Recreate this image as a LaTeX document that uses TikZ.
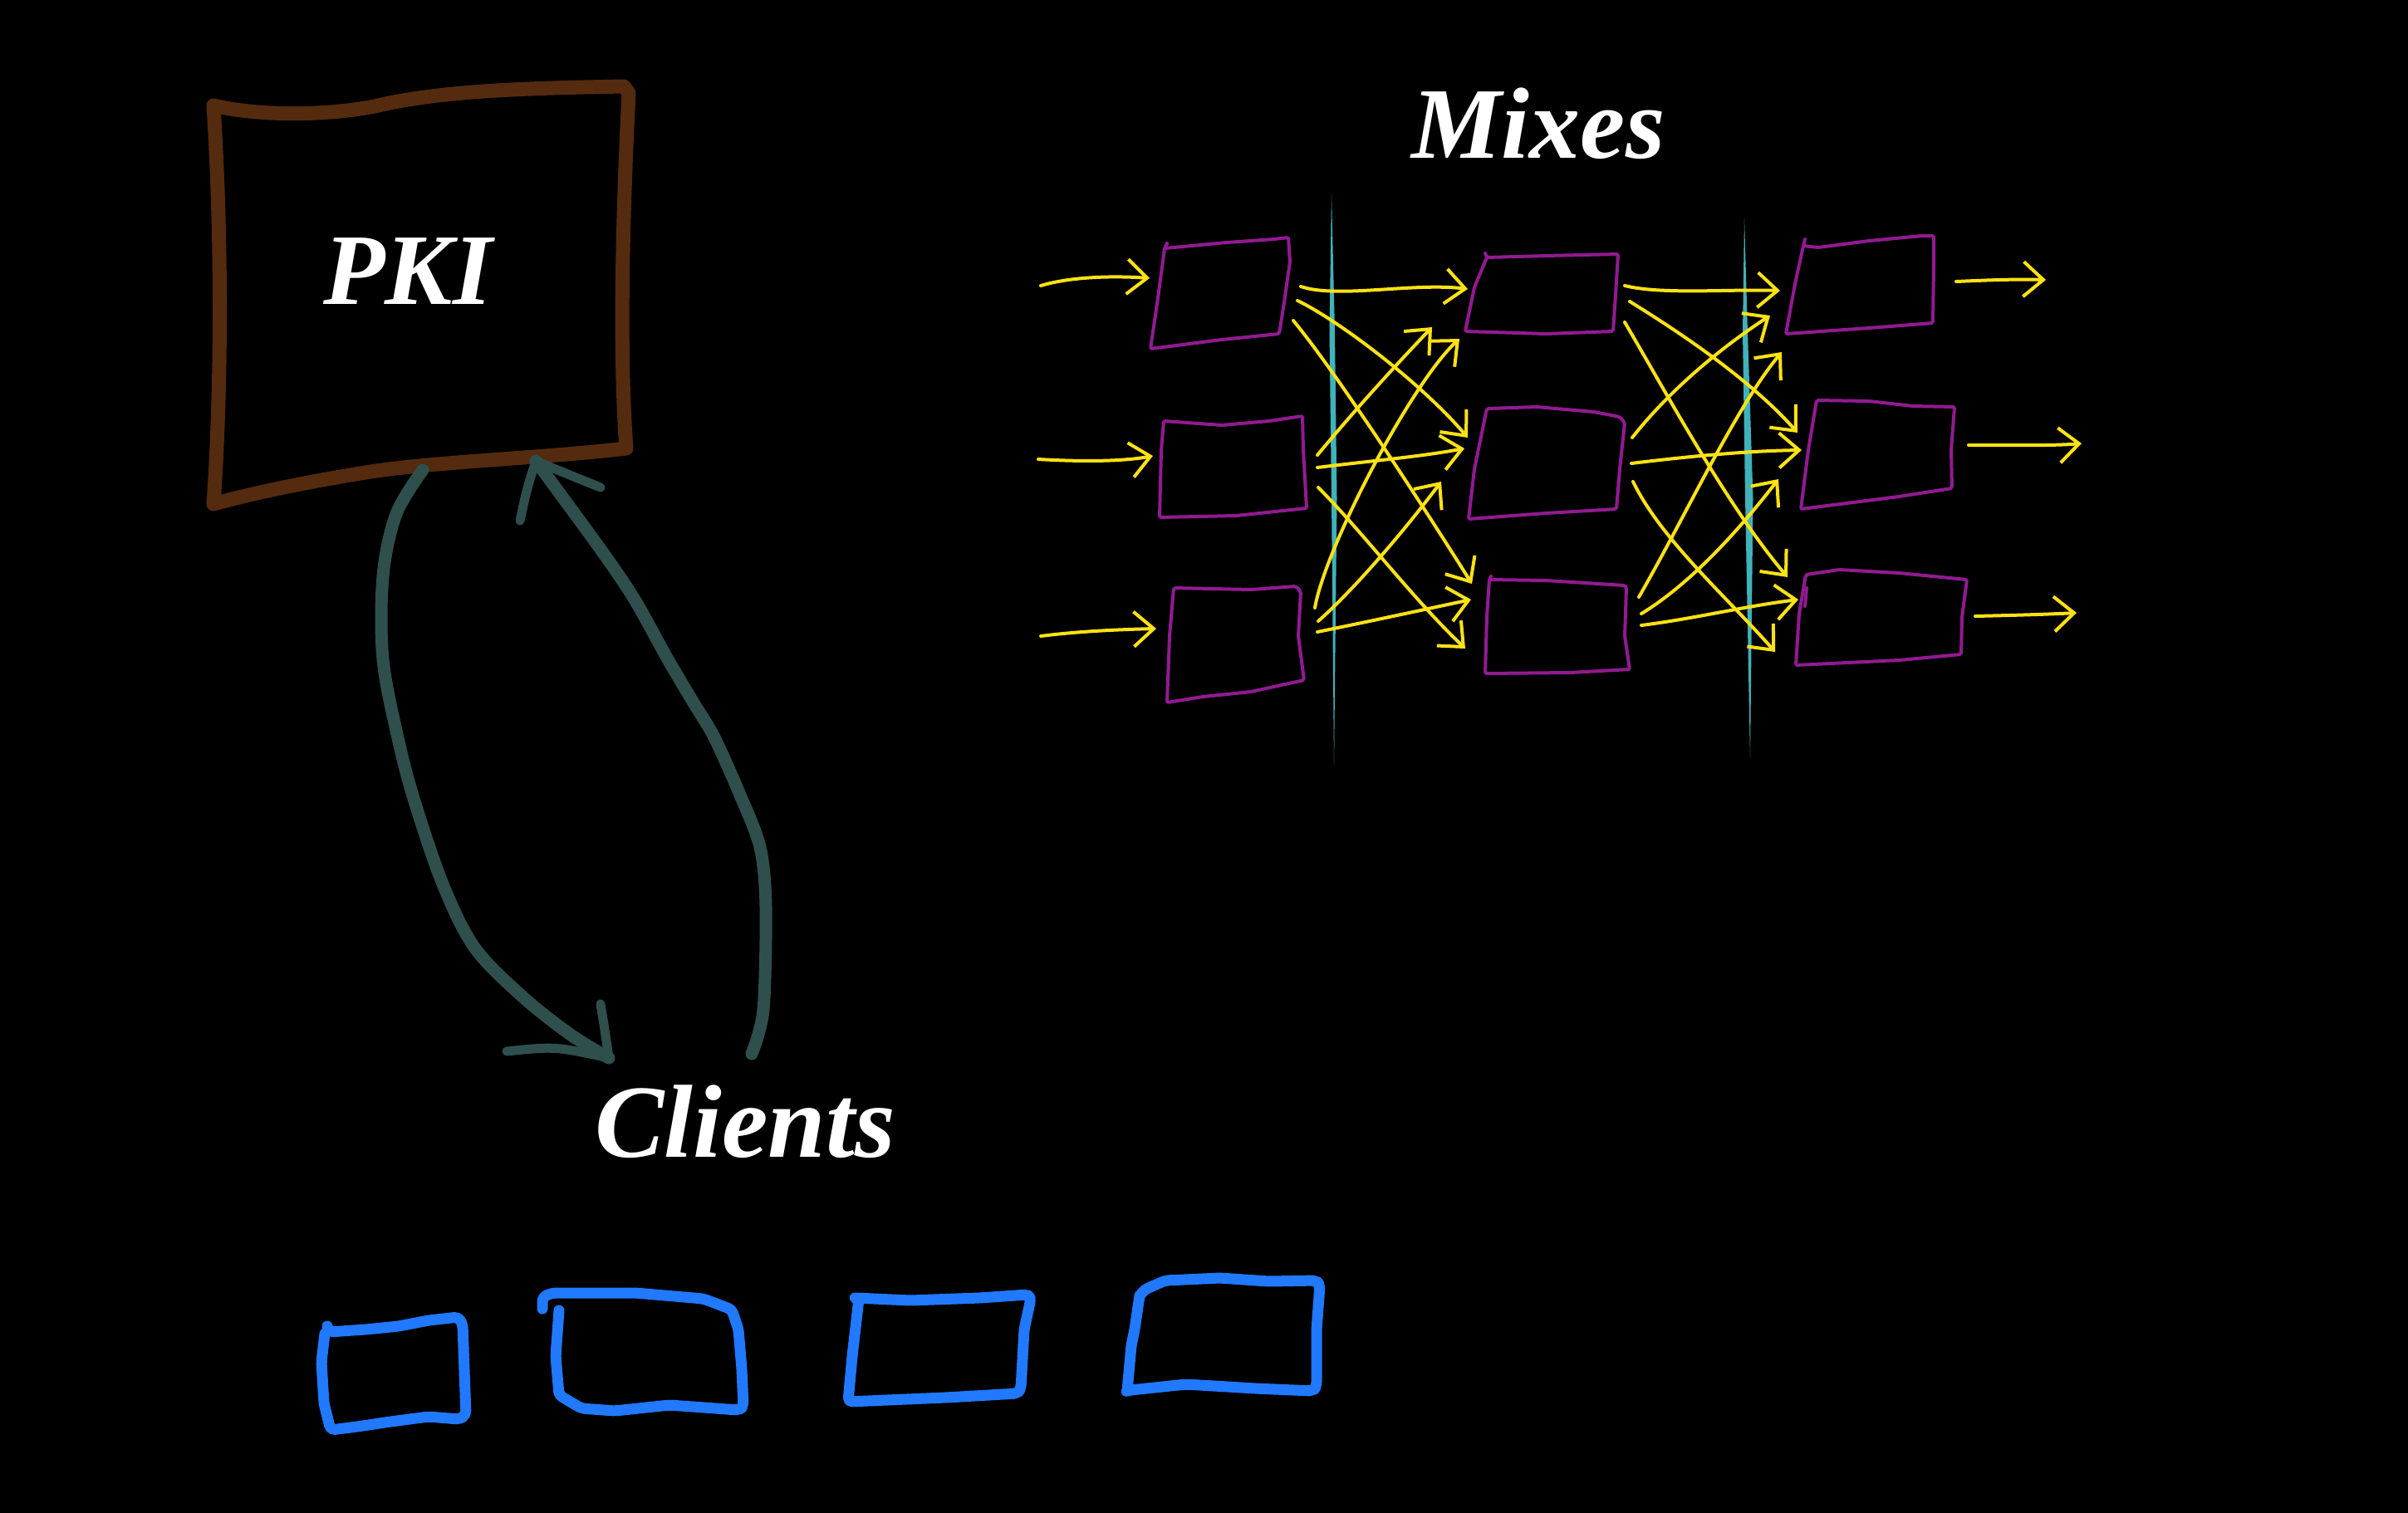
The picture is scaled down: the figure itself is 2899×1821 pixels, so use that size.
\documentclass[tikz,border=0pt]{standalone}
\usepackage{fontspec}
\setmainfont{Liberation Serif}
\usetikzlibrary{arrows.meta}
\definecolor{pkibrown}{RGB}{84,43,14}
\definecolor{linkteal}{RGB}{47,79,77}
\definecolor{cliblue}{RGB}{32,121,255}
\definecolor{mixpurple}{RGB}{146,26,146}
\definecolor{flowyellow}{RGB}{255,226,20}
\definecolor{layercyan}{RGB}{64,178,186}
\begin{document}
\begin{tikzpicture}[x=1pt,y=-1pt,
  pkibox/.style={draw=pkibrown,line width=17pt,line cap=round,line join=round},
  linkarrow/.style={draw=linkteal,line width=15pt,line cap=round,line join=round},
  linkhead/.style={draw=linkteal,line width=11pt,line cap=round,line join=round},
  clientbox/.style={draw=cliblue,line width=13pt,line cap=round,line join=round,rounded corners=5pt},
  mixbox/.style={draw=mixpurple,line width=4pt,line cap=round,line join=round,rounded corners=2pt},
  flow/.style={draw=flowyellow,line width=4pt,line cap=round,-{Straight Barb[length=24pt,width=42pt]}},
  title/.style={text=white,font=\fontsize{122}{130}\selectfont\bfseries\itshape,inner sep=0pt,anchor=base}]
\useasboundingbox (0,0) rectangle (2899,1821);
\fill[black] (-20,-20) rectangle (2919,1841);

% ---------- PKI ----------
\draw[pkibox] (257,127) .. controls (310,140) and (400,140) .. (460,126)
  .. controls (540,108) and (650,106) .. (751,104) -- (757,112)
  .. controls (750,250) and (745,420) .. (754,540)
  .. controls (650,552) and (520,556) .. (440,569)
  .. controls (360,582) and (300,595) .. (257,607)
  .. controls (266,480) and (268,300) .. (257,127) -- cycle;
\node[title] (pki) at (491,366) {PKI};

% ---------- links PKI <-> clients ----------
\coordinate (pkiL) at (509,566);
\coordinate (cliL) at (733,1274);
\coordinate (cliR) at (905,1269);
\coordinate (pkiR) at (645,555);
\draw[linkarrow] plot[smooth,tension=0.55] coordinates {(pkiL) (477,619) (461,694) (461,794) (480,893) (500,968) (534,1067) (572,1142) (630,1201) (687,1246) (cliL)};
\draw[linkhead] (610,1266) .. controls (668,1260) .. (cliL) .. controls (728,1240) .. (723,1209);
\draw[linkarrow] plot[smooth,tension=0.5] coordinates {(cliR) (919,1216) (922,1092) (915,1020) (890,955) (860,888) (836,848) (804,794) (764,722) (722,660) (pkiR)};
\draw[linkhead] (723,587) .. controls (676,568) .. (pkiR) .. controls (634,590) .. (626,627);

% ---------- clients ----------
\node[title,font=\fontsize{125}{130}\selectfont\bfseries\itshape] (clients) at (897,1393) {Clients};
\draw[clientbox] (394,1597) -- (396,1604) -- (440,1601) -- (480,1597) -- (516,1590) -- (552,1586) -- (557,1595) -- (559,1650) -- (561,1704) -- (553,1709) -- (516,1706) -- (470,1712) -- (430,1718) -- (398,1722) -- (390,1690) -- (387,1640) -- (391,1606);
\draw[clientbox] (673,1578) -- (669,1633) -- (673,1680) -- (700,1696) -- (740,1699) -- (806,1692) -- (889,1698) -- (895,1694) -- (893,1649) -- (889,1601) -- (881,1577) -- (847,1564) -- (765,1557) -- (665,1557) -- (653,1562) -- (653,1576);
\draw[clientbox] (1030,1563) -- (1096,1566) -- (1179,1563) -- (1237,1559) -- (1241,1564) -- (1233,1601) -- (1229,1672) -- (1225,1678) -- (1138,1683) -- (1021,1688) -- (1026,1633) -- (1034,1564) -- cycle;
\draw[clientbox] (1374,1558) -- (1378,1553) -- (1403,1542) -- (1469,1539) -- (1527,1543) -- (1585,1542) -- (1589,1548) -- (1585,1601) -- (1585,1669) -- (1581,1675) -- (1511,1672) -- (1428,1667) -- (1361,1674) -- (1357,1675) -- (1362,1620) -- (1366,1601) -- (1372,1560);

% ---------- mixes ----------
\node[title] (mixes) at (1852,190) {Mixes};

% layer separators
\fill[layercyan] (1603,234) -- (1600.5,400) -- (1603,600) -- (1606,922) -- (1609.5,600) -- (1607,400) -- cycle;
\fill[layercyan] (2100,263) -- (2098,400) -- (2101,600) -- (2107,913) -- (2110.5,600) -- (2104,400) -- cycle;

% mix boxes
\draw[mixbox] (1405,293) -- (1402,299) -- (1477,292) -- (1534,288) -- (1551,286) -- (1553,315) -- (1546,364) -- (1540,402) -- (1471,409) -- (1385,420) -- (1394,359) -- (1402,299);
\draw[mixbox] (1401,507) -- (1471,512) -- (1528,507) -- (1568,501) -- (1569,542) -- (1573,612) -- (1488,621) -- (1396,623) -- (1398,542) -- cycle;
\draw[mixbox] (1413,708) -- (1506,710) -- (1560,706) -- (1566,712) -- (1563,766) -- (1570,819) -- (1506,833) -- (1448,839) -- (1405,846) -- (1408,766) -- cycle;
\draw[mixbox] (1788,305) -- (1790,310) -- (1861,308) -- (1948,306) -- (1945,355) -- (1942,399) -- (1861,402) -- (1764,399) -- (1775,346) -- (1790,310);
\draw[mixbox] (1790,492) -- (1850,490) -- (1919,496) -- (1950,502) -- (1956,509) -- (1950,565) -- (1946,613) -- (1861,618) -- (1768,625) -- (1775,565) -- cycle;
\draw[mixbox] (1795,694) -- (1793,698) -- (1861,699) -- (1956,705) -- (1958,707) -- (1956,766) -- (1962,806) -- (1890,810) -- (1788,811) -- (1790,743) -- (1793,698);
\draw[mixbox] (2173,288) -- (2171,296) -- (2189,298) -- (2250,290) -- (2314,284) -- (2328,284) -- (2328,319) -- (2327,389) -- (2250,395) -- (2150,402) -- (2161,342) -- (2171,296);
\draw[mixbox] (2187,482) -- (2250,483) -- (2303,489) -- (2353,490) -- (2349,542) -- (2350,588) -- (2286,598) -- (2168,613) -- (2177,542) -- cycle;
\draw[mixbox] (2174,692) -- (2214,686) -- (2286,690) -- (2368,698) -- (2362,743) -- (2361,788) -- (2286,795) -- (2162,801) -- (2166,739) -- cycle;
\draw[mixbox] (2175,708) -- (2173,730);

% entry and exit
\coordinate (inA) at (1253,344);  \coordinate (a1in) at (1384,335);
\coordinate (inB) at (1250,553);  \coordinate (a2in) at (1388,549);
\coordinate (inC) at (1253,766);  \coordinate (a3in) at (1392,757);
\coordinate (c1out) at (2355,339); \coordinate (outA) at (2463,337);
\coordinate (c2out) at (2370,536); \coordinate (outB) at (2506,534);
\coordinate (c3out) at (2378,742); \coordinate (outC) at (2500,738);
\draw[flow] (inA) .. controls (1290,333) and (1340,332) .. (a1in);
\draw[flow] (inB) .. controls (1300,556) and (1350,556) .. (a2in);
\draw[flow] (inC) .. controls (1300,760) and (1350,758) .. (a3in);
\draw[flow] (c1out) .. controls (2400,337) and (2430,336) .. (outA);
\draw[flow] (c2out) .. controls (2420,536) and (2470,537) .. (outB);
\draw[flow] (c3out) .. controls (2420,741) and (2460,740) .. (outC);

% stage 1: A -> B
\coordinate (a1o1) at (1566,345); \coordinate (a1o2) at (1562,362); \coordinate (a1o3) at (1557,386);
\coordinate (a2o1) at (1586,548); \coordinate (a2o2) at (1586,563); \coordinate (a2o3) at (1587,587);
\coordinate (a3o1) at (1583,732); \coordinate (a3o2) at (1587,748); \coordinate (a3o3) at (1586,761);
\coordinate (b1i1) at (1767,348); \coordinate (b1i2) at (1724,394); \coordinate (b1i3) at (1757,408);
\coordinate (b2i1) at (1767,527); \coordinate (b2i2) at (1763,540); \coordinate (b2i3) at (1735,580);
\coordinate (b3i1) at (1772,703); \coordinate (b3i2) at (1764,781); \coordinate (b3i3) at (1771,722);
\draw[flow] (a1o1) .. controls (1610,360) and (1700,340) .. (b1i1);
\draw[flow] (a1o2) .. controls (1610,385) and (1710,460) .. (b2i1);
\draw[flow] (a1o3) .. controls (1610,450) and (1720,620) .. (b3i1);
\draw[flow] (a2o1) .. controls (1630,495) and (1680,440) .. (b1i2);
\draw[flow] (a2o2) .. controls (1650,555) and (1710,550) .. (b2i2);
\draw[flow] (a2o3) .. controls (1640,640) and (1700,720) .. (b3i2);
\draw[flow] (a3o1) .. controls (1595,660) and (1700,460) .. (b1i3);
\draw[flow] (a3o2) .. controls (1630,710) and (1690,640) .. (b2i3);
\draw[flow] (a3o3) .. controls (1650,748) and (1710,735) .. (b3i3);

% stage 2: B -> C
\coordinate (b1o1) at (1956,344); \coordinate (b1o2) at (1962,363); \coordinate (b1o3) at (1956,388);
\coordinate (b2o1) at (1965,527); \coordinate (b2o2) at (1964,558); \coordinate (b2o3) at (1966,580);
\coordinate (b3o1) at (1973,719); \coordinate (b3o2) at (1976,739); \coordinate (b3o3) at (1976,753);
\coordinate (c1i1) at (2143,350); \coordinate (c1i2) at (2131,380); \coordinate (c1i3) at (2145,424);
\coordinate (c2i1) at (2164,521); \coordinate (c2i2) at (2169,542); \coordinate (c2i3) at (2141,577);
\coordinate (c3i1) at (2152,695); \coordinate (c3i2) at (2137,785); \coordinate (c3i3) at (2165,722);
\draw[flow] (b1o1) .. controls (2000,355) and (2080,348) .. (c1i1);
\draw[flow] (b1o2) .. controls (2030,405) and (2110,460) .. (c2i1);
\draw[flow] (b1o3) .. controls (2010,480) and (2080,610) .. (c3i1);
\draw[flow] (b2o1) .. controls (2010,470) and (2070,420) .. (c1i2);
\draw[flow] (b2o2) .. controls (2030,550) and (2100,543) .. (c2i2);
\draw[flow] (b2o3) .. controls (2000,650) and (2080,720) .. (c3i2);
\draw[flow] (b3o1) .. controls (2030,620) and (2090,490) .. (c1i3);
\draw[flow] (b3o2) .. controls (2040,700) and (2100,630) .. (c2i3);
\draw[flow] (b3o3) .. controls (2040,745) and (2100,730) .. (c3i3);
\end{tikzpicture}
\end{document}
